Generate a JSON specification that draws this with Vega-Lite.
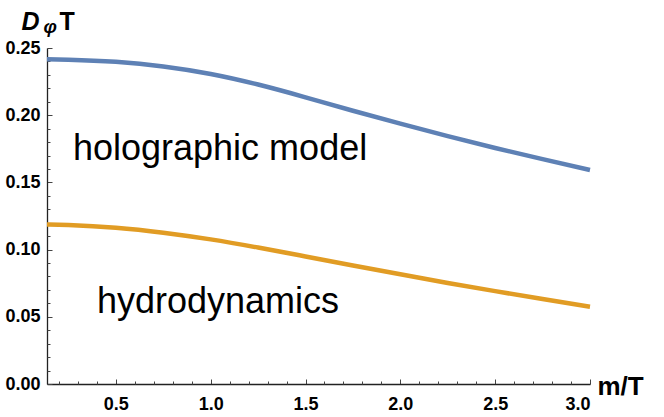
{
  "$schema": "https://vega.github.io/schema/vega-lite/v6.json",
  "autosize": "none",
  "width": 543,
  "height": 336,
  "padding": {"left": 47, "top": 48, "right": 74, "bottom": 33},
  "datasets": {
    "curves": [
      {"m": 0.137, "D": 0.2416, "model": "holographic"},
      {"m": 0.25, "D": 0.2413, "model": "holographic"},
      {"m": 0.5, "D": 0.2397, "model": "holographic"},
      {"m": 0.75, "D": 0.2363, "model": "holographic"},
      {"m": 1.0, "D": 0.2307, "model": "holographic"},
      {"m": 1.25, "D": 0.2228, "model": "holographic"},
      {"m": 1.5, "D": 0.2133, "model": "holographic"},
      {"m": 1.75, "D": 0.2033, "model": "holographic"},
      {"m": 2.0, "D": 0.1937, "model": "holographic"},
      {"m": 2.25, "D": 0.1844, "model": "holographic"},
      {"m": 2.5, "D": 0.1756, "model": "holographic"},
      {"m": 2.75, "D": 0.1673, "model": "holographic"},
      {"m": 3.0, "D": 0.1592, "model": "holographic"},
      {"m": 0.137, "D": 0.1186, "model": "hydro"},
      {"m": 0.25, "D": 0.1183, "model": "hydro"},
      {"m": 0.5, "D": 0.1163, "model": "hydro"},
      {"m": 0.75, "D": 0.1126, "model": "hydro"},
      {"m": 1.0, "D": 0.1076, "model": "hydro"},
      {"m": 1.25, "D": 0.1015, "model": "hydro"},
      {"m": 1.5, "D": 0.0949, "model": "hydro"},
      {"m": 1.75, "D": 0.0882, "model": "hydro"},
      {"m": 2.0, "D": 0.0816, "model": "hydro"},
      {"m": 2.25, "D": 0.0752, "model": "hydro"},
      {"m": 2.5, "D": 0.0691, "model": "hydro"},
      {"m": 2.75, "D": 0.0632, "model": "hydro"},
      {"m": 3.0, "D": 0.0575, "model": "hydro"}
    ],
    "notes": [
      {"m": 0.274, "D": 0.1667, "label": "holographic model"},
      {"m": 0.40, "D": 0.0528, "label": "hydrodynamics"}
    ]
  },
  "layer": [
    {
      "data": {"name": "curves"},
      "mark": {"type": "line", "strokeWidth": 4.5, "interpolate": "natural"},
      "encoding": {
        "x": {
          "field": "m",
          "type": "quantitative",
          "scale": {"domain": [0.137, 3.0], "nice": false, "zero": false},
          "axis": {
            "orient": "bottom",
            "values": [0.5, 1.0, 1.5, 2.0, 2.5, 3.0],
            "format": ".1f",
            "tickSize": -5,
            "labelPadding": 16,
            "title": "m/T",
            "titleFontSize": 26,
            "titleAlign": "left",
            "titleBaseline": "alphabetic",
            "titleX": 550,
            "titleY": 10
          }
        },
        "y": {
          "field": "D",
          "type": "quantitative",
          "scale": {"domain": [0, 0.25], "nice": false},
          "axis": {
            "orient": "left",
            "values": [0, 0.05, 0.1, 0.15, 0.2, 0.25],
            "format": ".2f",
            "tickSize": -5,
            "labelPadding": 12,
            "title": "D",
            "titleFontSize": 25,
            "titleFontStyle": "italic",
            "titleAngle": 0,
            "titleAlign": "left",
            "titleBaseline": "alphabetic",
            "titleX": -26,
            "titleY": -19
          }
        },
        "color": {
          "field": "model",
          "type": "nominal",
          "scale": {"domain": ["holographic", "hydro"], "range": ["#5E81B5", "#E19C24"]},
          "legend": null
        }
      }
    },
    {
      "data": {"name": "notes"},
      "mark": {"type": "text", "fontSize": 36, "align": "left", "baseline": "alphabetic", "font": "Liberation Sans", "color": "black"},
      "encoding": {
        "x": {
          "field": "m",
          "type": "quantitative",
          "axis": {
            "orient": "bottom",
            "values": [0.2, 0.3, 0.4, 0.6, 0.7, 0.8, 0.9, 1.1, 1.2, 1.3, 1.4, 1.6, 1.7, 1.8, 1.9, 2.1, 2.2, 2.3, 2.4, 2.6, 2.7, 2.8, 2.9],
            "tickSize": -3,
            "labels": false,
            "domain": false,
            "title": "T",
            "titleFontSize": 25,
            "titleAlign": "left",
            "titleBaseline": "alphabetic",
            "titleX": 12,
            "titleY": -355
          }
        },
        "y": {
          "field": "D",
          "type": "quantitative",
          "axis": {
            "orient": "left",
            "values": [0.01, 0.02, 0.03, 0.04, 0.06, 0.07, 0.08, 0.09, 0.11, 0.12, 0.13, 0.14, 0.16, 0.17, 0.18, 0.19, 0.21, 0.22, 0.23, 0.24],
            "tickSize": -3,
            "labels": false,
            "domain": false,
            "title": "φ",
            "titleFontSize": 19,
            "titleFontStyle": "italic",
            "titleAngle": 0,
            "titleAlign": "left",
            "titleBaseline": "alphabetic",
            "titleX": -4,
            "titleY": -16
          }
        },
        "text": {"field": "label"}
      }
    }
  ],
  "resolve": {"axis": {"x": "independent", "y": "independent"}},
  "config": {
    "view": {"stroke": null},
    "font": "Liberation Sans",
    "axis": {
      "grid": false,
      "labelFont": "Liberation Sans",
      "labelFontWeight": "bold",
      "labelFontSize": 18,
      "labelColor": "black",
      "titleFont": "Liberation Sans",
      "titleFontWeight": "bold",
      "titleColor": "black",
      "tickColor": "#444",
      "domainColor": "#222",
      "domainWidth": 1.3,
      "tickWidth": 1
    }
  }
}
